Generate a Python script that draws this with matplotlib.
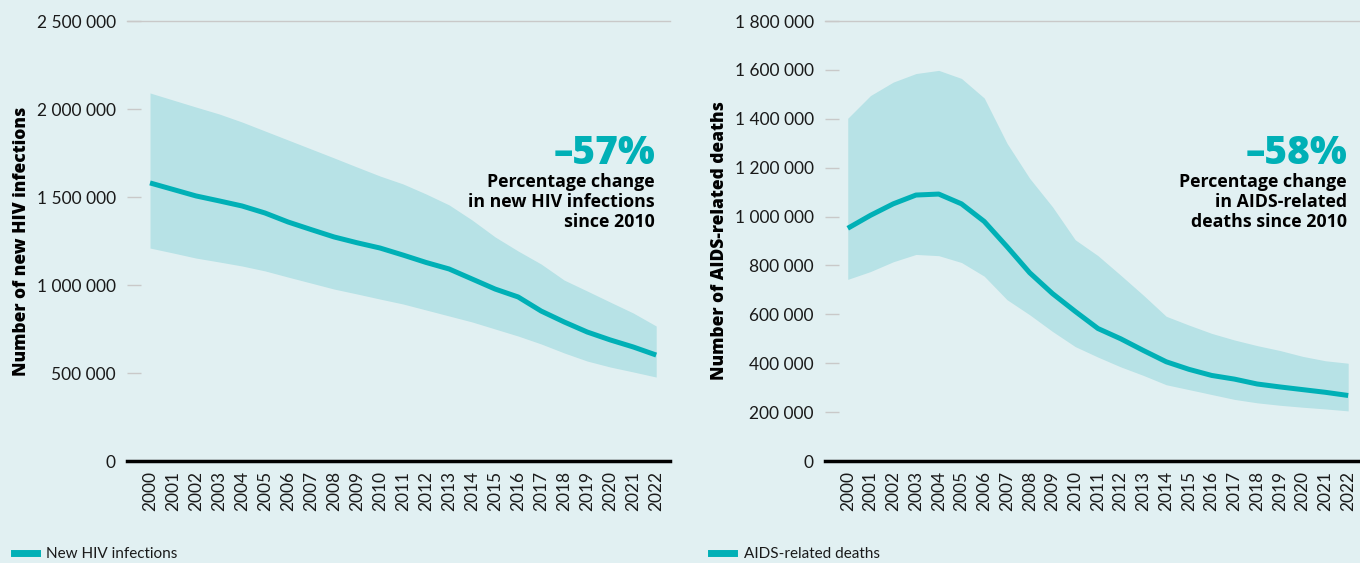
import matplotlib
matplotlib.use("Agg")
import matplotlib.pyplot as plt
from matplotlib.lines import Line2D
from matplotlib.ticker import FuncFormatter

# years shared by both panels
years = list(range(2000, 2023))

# new HIV infections: estimate with lower/upper bounds
infections = [1580000, 1543000, 1506000, 1478000, 1449000, 1409000, 1358000, 1315000,
              1273000, 1240000, 1210000, 1170000, 1128000, 1091000, 1034000, 977000,
              932000, 852000, 790000, 733000, 688000, 648000, 602000]
infections_low = [1210000, 1182000, 1153000, 1131000, 1108000, 1080000, 1045000, 1011000,
                  977000, 949000, 920000, 892000, 858000, 824000, 790000, 750000,
                  710000, 665000, 614000, 568000, 534000, 506000, 477000]
infections_high = [2091000, 2051000, 2011000, 1972000, 1926000, 1875000, 1824000, 1773000,
                   1722000, 1670000, 1619000, 1574000, 1517000, 1455000, 1369000, 1273000,
                   1193000, 1119000, 1028000, 966000, 903000, 841000, 767000]

# AIDS-related deaths: estimate with lower/upper bounds
deaths = [952000, 1005000, 1052000, 1088000, 1092000, 1052000, 980000, 877000,
          770000, 685000, 612000, 542000, 500000, 452000, 406000, 375000,
          350000, 335000, 315000, 303000, 292000, 281000, 268000]
deaths_low = [743000, 775000, 815000, 845000, 840000, 812000, 756000, 660000,
              598000, 530000, 468000, 425000, 385000, 350000, 312000, 292000,
              272000, 252000, 238000, 228000, 220000, 213000, 205000]
deaths_high = [1402000, 1495000, 1550000, 1585000, 1598000, 1565000, 1485000, 1300000,
               1156000, 1040000, 905000, 840000, 760000, 678000, 592000, 556000,
               522000, 495000, 472000, 452000, 428000, 410000, 400000]

BG = "#e1f0f2"
BAND = "#b7e2e6"
TEAL = "#00b0b6"

plt.rcParams["font.family"] = ["Lato", "DejaVu Sans"]
BOLD = ["Open Sans", "DejaVu Sans"]


def space_thousands(v, pos):
    return f"{int(v):,}".replace(",", " ")


def draw_panel(ax, mid, low, high, ymax, yticks, ylabel, pct, note):
    ax.set_facecolor(BG)
    ax.fill_between(years, low, high, color=BAND, linewidth=0)
    ax.plot(years, mid, color=TEAL, linewidth=3.6, solid_capstyle="butt")

    ax.set_xlim(1999, 2022.6)
    ax.set_ylim(0, ymax)
    ax.set_xticks(years)
    ax.set_xticklabels([str(y) for y in years], rotation=90)
    ax.set_yticks(yticks)
    ax.yaxis.set_major_formatter(FuncFormatter(space_thousands))

    ax.tick_params(axis="x", length=0, pad=7, labelsize=12.5, labelcolor="#1a1a1a")
    ax.tick_params(axis="y", direction="in", length=10, width=1, color="#c9c9c9",
                   pad=8, labelsize=12.5, labelcolor="#1a1a1a")

    for side in ("left", "right"):
        ax.spines[side].set_visible(False)
    ax.spines["top"].set_color("#c9c9c9")
    ax.spines["top"].set_linewidth(1)
    ax.spines["bottom"].set_color("black")
    ax.spines["bottom"].set_linewidth(2.5)

    ax.set_ylabel(ylabel, fontsize=12.5, fontweight="heavy", family=BOLD,
                  labelpad=5)

    ax.text(2021.95, ymax * 0.70, pct, ha="right", va="center", fontsize=28,
            fontweight="heavy", family=BOLD, color=TEAL)
    ax.text(2021.95, ymax * 0.588, note, ha="right", va="center", fontsize=12.8,
            fontweight="bold", family=BOLD, color="black", linespacing=1.15)


fig = plt.figure(figsize=(13.6, 5.63), dpi=100)
fig.patch.set_facecolor(BG)

ax1 = fig.add_axes([127 / 1360, 102 / 563, 543 / 1360, 440 / 563])
ax2 = fig.add_axes([825 / 1360, 102 / 563, 535 / 1360, 440 / 563])

draw_panel(ax1, infections, infections_low, infections_high, 2500000,
           [0, 500000, 1000000, 1500000, 2000000, 2500000],
           "Number of new HIV infections", "\u201357%",
           "Percentage change\nin new HIV infections\nsince 2010")
draw_panel(ax2, deaths, deaths_low, deaths_high, 1800000,
           list(range(0, 1800001, 200000)),
           "Number of AIDS-related deaths", "\u201358%",
           "Percentage change\nin AIDS-related\ndeaths since 2010")
ax2.set_xlim(1999, 2022.52)

# legends under each panel
for x0, label in ((0.0, "New HIV infections"), (0.513, "AIDS-related deaths")):
    handle = Line2D([], [], color=TEAL, linewidth=5)
    fig.legend([handle], [label], loc="lower left", bbox_to_anchor=(x0, -0.021),
               frameon=False, fontsize=11, handlelength=1.5, handletextpad=0.6,
               labelcolor="#1a1a1a")

fig.savefig("out.png", dpi=100, facecolor=BG)
